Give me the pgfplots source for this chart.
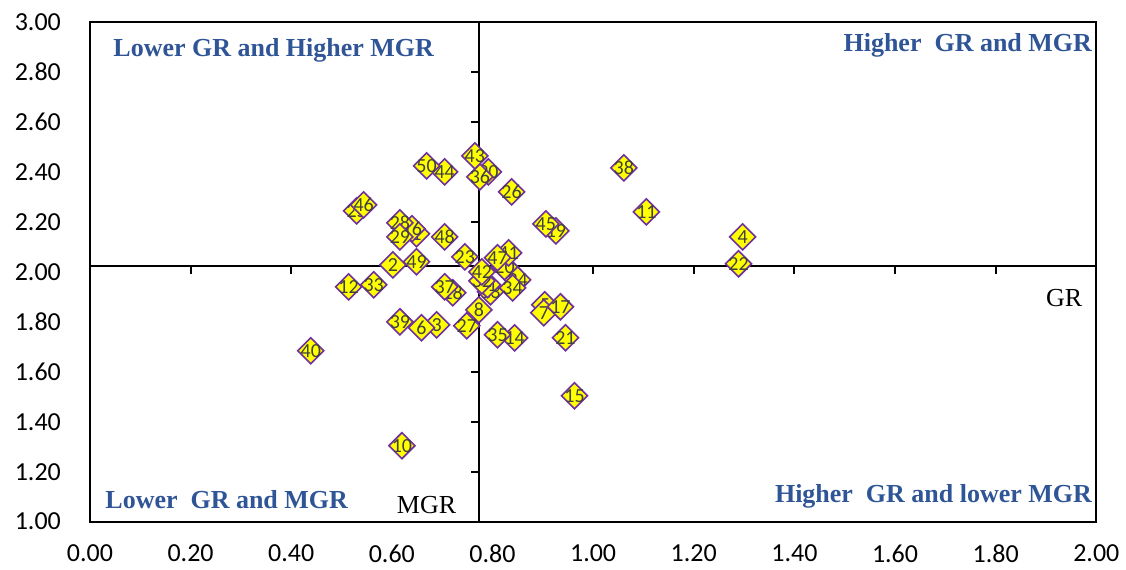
\documentclass[border=0pt]{standalone}
\usepackage{fontspec}
\setmainfont{Liberation Serif}
\newfontfamily\calibri{Carlito}
\usepackage{pgfplots}
\usepackage{pgfplotstable}
\pgfplotsset{compat=1.18}
\definecolor{quadblue}{HTML}{2F5597}
\definecolor{mkfill}{HTML}{FFFF00}
\definecolor{mkedge}{HTML}{7030A0}
\definecolor{lbl}{HTML}{404040}

% GR (x) and MGR (y) for each of the 50 units
\pgfplotstableread{
x y id
0.649 2.152 1
0.602 2.028 2
0.689 1.788 3
1.297 2.140 4
0.904 1.868 5
0.659 1.776 6
0.902 1.836 7
0.773 1.848 8
0.830 2.008 9
0.620 1.304 10
1.106 2.240 11
0.514 1.940 12
0.796 1.920 13
0.844 1.736 14
0.963 1.504 15
0.640 2.172 16
0.935 1.860 17
0.721 1.916 18
0.926 2.164 19
0.824 2.020 20
0.945 1.736 21
1.289 2.032 22
0.745 2.060 23
0.850 1.968 24
0.530 2.244 25
0.838 2.320 26
0.749 1.784 27
0.616 2.196 28
0.616 2.140 29
0.792 2.400 30
0.790 1.948 31
0.779 1.964 32
0.564 1.948 33
0.840 1.936 34
0.810 1.748 35
0.775 2.380 36
0.705 1.940 37
1.061 2.416 38
0.616 1.800 39
0.439 1.684 40
0.832 2.076 41
0.779 2.000 42
0.765 2.464 43
0.705 2.400 44
0.906 2.192 45
0.544 2.268 46
0.810 2.056 47
0.705 2.140 48
0.649 2.040 49
0.669 2.424 50
}\units

\begin{document}
\begin{tikzpicture}
\begin{axis}[
  scale only axis,
  width=503.5pt, height=250pt,
  xmin=0, xmax=2, ymin=1, ymax=3,
  xtick={0,0.2,0.4,0.6,0.8,1,1.2,1.4,1.6,1.8,2},
  ytick={1,1.2,1.4,1.6,1.8,2,2.2,2.4,2.6,2.8,3},
  major tick length=0pt,
  axis line style={line width=1pt},
  xticklabel style={font=\calibri\fontsize{13}{15}\selectfont, yshift=-8pt},
  yticklabel style={font=\calibri\fontsize{13}{15}\selectfont, xshift=-11pt},
  /pgf/number format/.cd, fixed, fixed zerofill, precision=2, assume math mode=true,
  /pgfplots/.cd,
  clip=false,
]
% quadrant dividers with their own tick marks
\draw[line width=1pt] (axis cs:0.773,1) -- (axis cs:0.773,3);
\draw[line width=1pt] (axis cs:0,2.022) -- (axis cs:2,2.022);
\pgfplotsinvokeforeach{0.2,0.4,0.6,0.8,1.0,1.2,1.4,1.6,1.8}{
  \draw[line width=1pt] (axis cs:#1,2.022) -- ([yshift=-4pt]axis cs:#1,2.022);
}
\pgfplotsinvokeforeach{1.2,1.4,1.6,1.8,2.0,2.2,2.4,2.6,2.8}{
  \draw[line width=1pt] (axis cs:0.773,#1) -- ([xshift=-4pt]axis cs:0.773,#1);
}

\addplot[
  only marks,
  mark=square*,
  mark size=4.6pt,
  mark options={rotate=45, fill=mkfill, draw=mkedge, line width=0.8pt},
  nodes near coords,
  point meta=explicit symbolic,
  every node near coord/.append style={anchor=center, inner sep=0pt,
    font=\calibri\fontsize{10}{10}\selectfont, text=lbl},
] table[x=x, y=y, meta=id] {\units};

% quadrant captions
\begin{scope}[every node/.style={inner sep=0pt}]
\node[anchor=west, font=\bfseries\fontsize{13}{15}\selectfont, text=quadblue]
  at (axis cs:0.046,2.885) {Lower GR and Higher MGR};
\node[anchor=east, font=\bfseries\fontsize{13}{15}\selectfont, text=quadblue]
  at (axis cs:1.992,2.905) {Higher\ \ GR and MGR};
\node[anchor=west, font=\bfseries\fontsize{13}{15}\selectfont, text=quadblue]
  at (axis cs:0.030,1.088) {Lower\ \ GR and MGR};
\node[anchor=east, font=\bfseries\fontsize{13}{15}\selectfont, text=quadblue]
  at (axis cs:1.992,1.100) {Higher\ \ GR and lower MGR};
\node[font=\fontsize{13}{15}\selectfont] at (axis cs:1.936,1.896) {GR};
\node[font=\fontsize{13}{15}\selectfont] at (axis cs:0.669,1.068) {MGR};
\end{scope}
\end{axis}
\path (current axis.south west) ++(-45pt,-23.5pt) coordinate (bbA);
\path (current axis.north east) ++(14.5pt,11pt) coordinate (bbB);
\path[use as bounding box] (bbA) rectangle (bbB);
\end{tikzpicture}
\end{document}
